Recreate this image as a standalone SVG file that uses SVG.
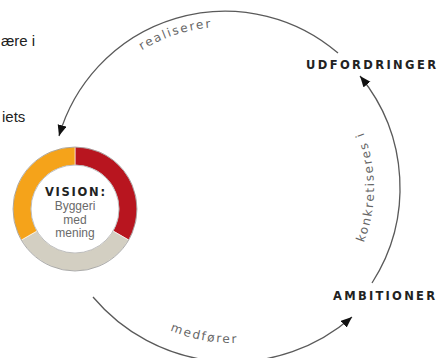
<svg xmlns="http://www.w3.org/2000/svg" width="439" height="358" viewBox="0 0 439 358">
  <style>
    .edge { fill: none; stroke: #5a5a5a; stroke-width: 1.3; }
    .guide { fill: none; stroke: none; }
    .lbl { font-family: "DejaVu Sans", "Liberation Sans", sans-serif; font-size: 12px; fill: #666; letter-spacing: 1.8px; }
    .node { font-family: "DejaVu Sans", "Liberation Sans", sans-serif; font-size: 11.5px; font-weight: bold; fill: #222; }
    .body { font-family: "Liberation Sans", Arial, sans-serif; font-size: 15px; fill: #222; }
    .sub { font-family: "Liberation Sans", Arial, sans-serif; font-size: 12px; fill: #6a6a6a; }
    .seg { stroke: #ffffff; stroke-width: 0.6; }
  </style>
  <defs>
    <marker id="arrow" markerUnits="userSpaceOnUse" markerWidth="12" markerHeight="10" refX="11" refY="4.5" orient="auto">
      <path d="M0,0 L11,4.5 L0,9 Z" fill="#111"/>
    </marker>
    <path id="pTop" class="guide" d="M104.5,82.7 A156,156 0 0 1 302,47.9"/>
    <path id="pRight" class="guide" d="M338.9,284.4 A150,150 0 0 0 338.9,91.6"/>
    <path id="pBottom" class="guide" d="M91,261 A164,164 0 0 0 375,261"/>
  </defs>

  <rect width="439" height="358" fill="#ffffff"/>

  <g id="page-text">
    <text class="body" x="1" y="46">ære i</text>
    <text class="body" x="2" y="122">iets</text>
  </g>

  <g id="connectors">
    <path class="edge" d="M338,53 A173,173 0 0 0 59,136" marker-end="url(#arrow)"/>
    <path class="edge" d="M372,283 A176,176 0 0 0 360,76" marker-end="url(#arrow)"/>
    <path class="edge" d="M93,297 A182,182 0 0 0 352,317" marker-end="url(#arrow)"/>
    <text class="lbl"><textPath href="#pTop" startOffset="87" text-anchor="middle">realiserer</textPath></text>
    <text class="lbl"><textPath href="#pRight" startOffset="106" text-anchor="middle">konkretiseres i</textPath></text>
    <text class="lbl"><textPath href="#pBottom" startOffset="142" text-anchor="middle">medfører</textPath></text>
  </g>

  <g id="vision">
    <path class="seg" fill="#B8151F" d="M75,147 A62,62 0 0 1 128.69,240 L113.11,231 A44,44 0 0 0 75,165 Z"/>
    <path class="seg" fill="#D3CFC2" d="M128.69,240 A62,62 0 0 1 21.31,240 L36.89,231 A44,44 0 0 0 113.11,231 Z"/>
    <path class="seg" fill="#F5A31A" d="M21.31,240 A62,62 0 0 1 75,147 L75,165 A44,44 0 0 0 36.89,231 Z"/>
    <circle cx="75" cy="209" r="62" fill="none" stroke="#8c8c8c" stroke-width="0.7"/>
    <circle cx="75" cy="209" r="44" fill="#ffffff" stroke="#a0a0a0" stroke-width="0.7"/>
    <text class="node" x="75" y="196" text-anchor="middle" textLength="60" lengthAdjust="spacing">VISION:</text>
    <text class="sub" x="75" y="210" text-anchor="middle">Byggeri</text>
    <text class="sub" x="75" y="223.5" text-anchor="middle">med</text>
    <text class="sub" x="75" y="237" text-anchor="middle">mening</text>
  </g>

  <g id="udfordringer">
    <text class="node" x="306" y="69" textLength="130" lengthAdjust="spacing">UDFORDRINGER</text>
  </g>

  <g id="ambitioner">
    <text class="node" x="333" y="300" textLength="102" lengthAdjust="spacing">AMBITIONER</text>
  </g>
</svg>
